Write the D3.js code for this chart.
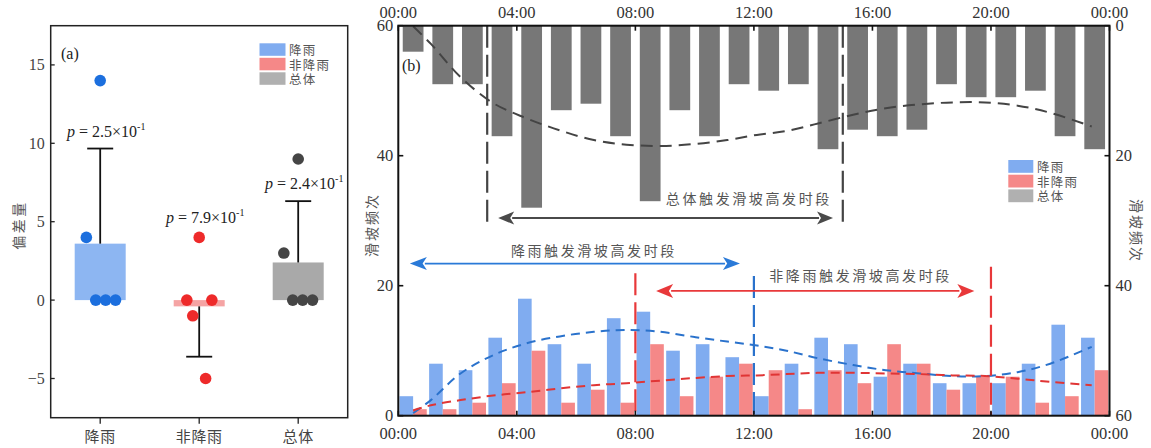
<!DOCTYPE html>
<html><head><meta charset="utf-8">
<script src="https://cdn.jsdelivr.net/npm/d3@7"></script>
<style>body{margin:0;background:#fff} svg{display:block}</style>
</head><body><svg id="c" width="1151" height="448"></svg>
<script>
// ---------- data: panel (a) ----------
const groupsA = ["降雨", "非降雨", "总体"];
const rainDev = [14, 4, 0, 0, 0];
const nonRainDev = [4, 0, 0, -1, -5];
const totalDev = [9, 3, 0, 0, 0];
const dotJitter = [[0, -0.14, -0.045, 0.055, 0.155], [0, -0.125, 0.128, -0.065, 0.065], [0, -0.145, -0.055, 0.045, 0.145]];
const pValues = ["2.5", "7.9", "2.4"];
const yTicksA = [-5, 0, 5, 10, 15];

// ---------- data: panel (b) ----------
const hourSlots = [0,1,2,3,4,5,6,7,8,9,10,11,12,13,14,15,16,17,18,19,20,21,22,23];
const rainFreq    = [3,8,7,12,18,11,8,15,16,10,11,9,3,8,12,11,6,8,5,5,5,8,14,12];
const nonRainFreq = [1,1,2,5,10,2,4,2,11,3,6,8,7,1,7,5,11,8,4,6,6,2,3,7];
const totalFreq   = [4,9,9,17,28,13,12,17,27,13,17,9,10,9,19,16,17,16,9,11,11,10,17,19];
const timeTickHours = [0,4,8,12,16,20,24];
const timeTickLabels = ["00:00","04:00","08:00","12:00","16:00","20:00","00:00"];
const freqTicks = [0,20,40,60];
const curveHours = [0.5,1.1,2.1,3.2,4.3,5.45,6.6,7.7,8.85,10,11.1,12.1,13.1,14.2,15.35,16.45,17.6,18.7,19.8,20.9,22,23.4];
const rainCurve    = [0.4,2.4,6.5,9.3,11.1,12.2,12.9,13.2,12.9,12.1,11.4,10.8,10.0,8.8,7.8,7.0,6.5,6.1,6.1,6.7,8.0,10.6];
const nonRainCurve = [0.8,1.6,2.4,3.1,3.6,4.2,4.7,5.0,5.4,5.8,6.1,6.2,6.4,6.6,6.6,6.5,6.4,6.2,6.1,5.7,5.2,4.7];
const totalCurve   = [0.1,2.8,7.9,11.9,14.2,16.1,17.6,18.3,18.5,18.2,17.6,16.8,16.2,15.0,13.7,12.7,12.1,11.8,11.8,12.3,13.4,15.5];
// high-incidence periods (hours) and annotation anchors (hours / frequency units)
const totalPeriod = [3, 15], rainPeriod = [0, 12], nonRainPeriod = [8, 20];
const totalArrow = [3.37, 14.67], rainArrow = [0.39, 11.53], nonRainArrow = [8.7, 19.44];
const arrowLevels = [30.4, 23.4, 19.2];
const periodLineTops = {total: 29, rain: 21.5, nonRainStart: 21.9, nonRainEnd: 22.9};
const periodLabels = ["总体触发滑坡高发时段", "降雨触发滑坡高发时段", "非降雨触发滑坡高发时段"];
const labelAnchors = [[14.63, 33.5], [6.6, 25.5], [15.6, 21.6]];
const legendLabels = ["降雨", "非降雨", "总体"];

// ---------- styles ----------
const CJK = "'Noto Sans CJK SC', sans-serif";
const SERIF = "'Liberation Serif', 'Times New Roman', serif";
const boxColors = ["#8db6f2", "#f5a4a4", "#a9a9a9"];
const dotColors = ["#1c6fde", "#ee2a2a", "#454545"];
const barBlue = "#80acf0", barRed = "#f58888", barGray = "#777777";
const legColors = ["#80acf0", "#f58888", "#b0b0b0"];

const svg = d3.select("#c");

// ================= PANEL (a) =================
const A = {l: 50.7, r: 347.7, t: 25.7, b: 417.7};
const xa = d3.scaleBand().domain(groupsA).range([A.l, A.r]).padding(0);
const ya = d3.scaleLinear().domain([-7.5, 17.5]).range([A.b, A.t]);
const ga = svg.append("g");
const devSets = [rainDev, nonRainDev, totalDev];
const boxW = 51, capW = 26;

devSets.forEach((vals, i) => {
  const cx = xa(groupsA[i]) + xa.bandwidth() / 2;
  const m = d3.mean(vals), sd = d3.deviation(vals);
  ga.append("rect").attr("x", cx - boxW / 2).attr("width", boxW)
    .attr("y", Math.min(ya(m), ya(0))).attr("height", Math.abs(ya(m) - ya(0)))
    .attr("fill", boxColors[i]);
  const end = m >= 0 ? m + sd : m - sd;
  ga.append("line").attr("x1", cx).attr("x2", cx).attr("y1", ya(m)).attr("y2", ya(end))
    .attr("stroke", "#111").attr("stroke-width", 1.8);
  ga.append("line").attr("x1", cx - capW / 2).attr("x2", cx + capW / 2).attr("y1", ya(end)).attr("y2", ya(end))
    .attr("stroke", "#111").attr("stroke-width", 1.8);
  vals.forEach((v, j) => {
    ga.append("circle").attr("cx", cx + dotJitter[i][j] * xa.bandwidth()).attr("cy", ya(v)).attr("r", 5.8)
      .attr("fill", dotColors[i]);
  });
  const anchor = m >= 0 ? m + sd : d3.max(vals);
  const ty = ya(anchor) - (m >= 0 ? 12 : 14);
  const t = ga.append("text").attr("x", cx + 6).attr("y", ty).attr("text-anchor", "middle")
    .attr("font-family", SERIF).attr("font-size", 16).attr("fill", "#222");
  t.append("tspan").attr("font-style", "italic").text("p");
  t.append("tspan").text(" = " + pValues[i] + "×10");
  t.append("tspan").attr("font-size", 10).attr("dy", -7).text("-1");
});

ga.append("rect").attr("x", A.l).attr("y", A.t).attr("width", A.r - A.l).attr("height", A.b - A.t)
  .attr("fill", "none").attr("stroke", "#222").attr("stroke-width", 1.5);
yTicksA.forEach(v => {
  ga.append("line").attr("x1", A.l).attr("x2", A.l + 4).attr("y1", ya(v)).attr("y2", ya(v)).attr("stroke", "#222").attr("stroke-width", 1.3);
  ga.append("text").attr("x", A.l - 6).attr("y", ya(v)).attr("dy", "0.34em").attr("text-anchor", "end")
    .attr("font-family", SERIF).attr("font-size", 16).attr("fill", "#444").text(v < 0 ? "−" + Math.abs(v) : v);
});
groupsA.forEach(g => {
  const cx = xa(g) + xa.bandwidth() / 2;
  ga.append("line").attr("x1", cx).attr("x2", cx).attr("y1", A.b).attr("y2", A.b + 6).attr("stroke", "#222").attr("stroke-width", 1.3);
  ga.append("text").attr("x", cx).attr("y", 435).attr("dominant-baseline", "central").attr("text-anchor", "middle")
    .attr("font-family", CJK).attr("font-size", 15).attr("letter-spacing", 0.6).attr("fill", "#444").text(g);
});
ga.append("text").attr("transform", "translate(18,225) rotate(-90)").attr("text-anchor", "middle")
  .attr("dominant-baseline", "central").attr("font-family", CJK).attr("font-size", 14).attr("letter-spacing", 2.5)
  .attr("fill", "#555").text("偏差量");
ga.append("text").attr("x", 61).attr("y", 53).attr("dominant-baseline", "central").attr("font-family", SERIF)
  .attr("font-size", 16).attr("fill", "#222").text("(a)");
legendLabels.forEach((s, i) => {
  const y0 = 43.3 + i * 14.5;
  ga.append("rect").attr("x", 259.5).attr("y", y0).attr("width", 26).attr("height", 12.5).attr("fill", legColors[i]);
  ga.append("text").attr("x", 289).attr("y", y0 + 6.5).attr("dominant-baseline", "central").attr("font-family", CJK)
    .attr("font-size", 12.5).attr("letter-spacing", 1.2).attr("fill", "#555").text(s);
});

// ================= PANEL (b) =================
const B = {l: 398.3, r: 1109.5, t: 25.7, b: 415.7};
const xt = d3.scaleLinear().domain([0, 24]).range([B.l, B.r]);
const yl = d3.scaleLinear().domain([0, 60]).range([B.b, B.t]);
const yr = d3.scaleLinear().domain([0, 60]).range([B.t, B.b]);
const hourBand = d3.scaleBand().domain(hourSlots).range([B.l, B.r]).paddingInner(0.3).paddingOuter(0.15);
const groupBand = d3.scaleBand().domain(hourSlots).range([B.l, B.r]).paddingInner(0.08).paddingOuter(0.04);
const subBand = d3.scaleBand().domain(["rain", "non"]).range([0, groupBand.bandwidth()]);
const gb = svg.append("g");

gb.selectAll(".tb").data(hourSlots).join("rect")
  .attr("x", h => hourBand(h)).attr("width", hourBand.bandwidth())
  .attr("y", yr(0)).attr("height", (h, i) => yr(totalFreq[i]) - yr(0)).attr("fill", barGray);

gb.selectAll(".rb").data(hourSlots).join("rect")
  .attr("x", h => groupBand(h) + subBand("rain")).attr("width", subBand.bandwidth())
  .attr("y", (h, i) => yl(rainFreq[i])).attr("height", (h, i) => yl(0) - yl(rainFreq[i])).attr("fill", barBlue);
gb.selectAll(".nb").data(hourSlots).join("rect")
  .attr("x", h => groupBand(h) + subBand("non")).attr("width", subBand.bandwidth())
  .attr("y", (h, i) => yl(nonRainFreq[i])).attr("height", (h, i) => yl(0) - yl(nonRainFreq[i])).attr("fill", barRed);

const lineL = d3.line().x((d, i) => xt(curveHours[i])).y(d => yl(d)).curve(d3.curveCatmullRom);
const lineR = d3.line().x((d, i) => xt(curveHours[i])).y(d => yr(d)).curve(d3.curveCatmullRom);
gb.append("path").attr("d", lineR(totalCurve)).attr("fill", "none").attr("stroke", "#444").attr("stroke-width", 2).attr("stroke-dasharray", "12,7");
gb.append("path").attr("d", lineL(rainCurve)).attr("fill", "none").attr("stroke", "#2a72cc").attr("stroke-width", 2).attr("stroke-dasharray", "9,6");
gb.append("path").attr("d", lineL(nonRainCurve)).attr("fill", "none").attr("stroke", "#e03535").attr("stroke-width", 2).attr("stroke-dasharray", "9,6");

function vline(h, top, bottom, color) {
  gb.append("line").attr("x1", xt(h)).attr("x2", xt(h)).attr("y1", top).attr("y2", bottom)
    .attr("stroke", color).attr("stroke-width", 2.2).attr("stroke-dasharray", "22,7");
}
vline(totalPeriod[0], B.t, yl(periodLineTops.total), "#444");
vline(totalPeriod[1], B.t, yl(periodLineTops.total), "#444");
vline(rainPeriod[1], yl(periodLineTops.rain), B.b, "#2a72cc");
vline(nonRainPeriod[0], yl(periodLineTops.nonRainStart), B.b, "#e8383a");
vline(nonRainPeriod[1], yl(periodLineTops.nonRainEnd), B.b, "#e8383a");

function dblArrow(span, level, color, w, hl, hw) {
  const x1 = xt(span[0]), x2 = xt(span[1]), y = yl(level);
  gb.append("line").attr("x1", x1 + hl - 2).attr("x2", x2 - hl + 2).attr("y1", y).attr("y2", y)
    .attr("stroke", color).attr("stroke-width", w);
  gb.append("path").attr("d", `M${x1},${y}L${x1 + hl},${y - hw / 2}L${x1 + hl * 0.75},${y}L${x1 + hl},${y + hw / 2}Z`).attr("fill", color);
  gb.append("path").attr("d", `M${x2},${y}L${x2 - hl},${y - hw / 2}L${x2 - hl * 0.75},${y}L${x2 - hl},${y + hw / 2}Z`).attr("fill", color);
}
dblArrow(totalArrow, arrowLevels[0], "#4a4a4a", 2, 16, 13);
dblArrow(rainArrow, arrowLevels[1], "#2a7ad8", 1.6, 17, 13);
dblArrow(nonRainArrow, arrowLevels[2], "#e8383a", 1.6, 17, 14);

const anchors = ["end", "middle", "middle"];
periodLabels.forEach((s, i) => {
  gb.append("text").attr("x", xt(labelAnchors[i][0])).attr("y", yl(labelAnchors[i][1]))
    .attr("text-anchor", anchors[i]).attr("dominant-baseline", "central")
    .attr("font-family", CJK).attr("font-size", 14).attr("letter-spacing", 2.6).attr("fill", "#555").text(s);
});

gb.append("rect").attr("x", B.l).attr("y", B.t).attr("width", B.r - B.l).attr("height", B.b - B.t)
  .attr("fill", "none").attr("stroke", "#111").attr("stroke-width", 2);
timeTickHours.forEach((h, i) => {
  const x = xt(h);
  gb.append("line").attr("x1", x).attr("x2", x).attr("y1", B.t).attr("y2", B.t + 5).attr("stroke", "#111").attr("stroke-width", 1.6);
  gb.append("line").attr("x1", x).attr("x2", x).attr("y1", B.b).attr("y2", B.b - 5).attr("stroke", "#111").attr("stroke-width", 1.6);
  gb.append("text").attr("x", x).attr("y", 12.5).attr("dy", "0.34em").attr("text-anchor", "middle")
    .attr("font-family", SERIF).attr("font-size", 16.5).attr("fill", "#333").text(timeTickLabels[i]);
  gb.append("text").attr("x", x).attr("y", 433).attr("dy", "0.34em").attr("text-anchor", "middle")
    .attr("font-family", SERIF).attr("font-size", 16.5).attr("fill", "#333").text(timeTickLabels[i]);
});
freqTicks.forEach(v => {
  gb.append("line").attr("x1", B.l).attr("x2", B.l + 5).attr("y1", yl(v)).attr("y2", yl(v)).attr("stroke", "#111").attr("stroke-width", 1.6);
  gb.append("text").attr("x", B.l - 5).attr("y", yl(v)).attr("dy", "0.34em").attr("text-anchor", "end")
    .attr("font-family", SERIF).attr("font-size", 16.5).attr("fill", "#333").text(v);
  gb.append("line").attr("x1", B.r).attr("x2", B.r - 5).attr("y1", yr(v)).attr("y2", yr(v)).attr("stroke", "#111").attr("stroke-width", 1.6);
  gb.append("text").attr("x", B.r + 6).attr("y", yr(v)).attr("dy", "0.34em").attr("text-anchor", "start")
    .attr("font-family", SERIF).attr("font-size", 16.5).attr("fill", "#333").text(v);
});
gb.append("text").attr("transform", "translate(371,225) rotate(-90)").attr("text-anchor", "middle")
  .attr("dominant-baseline", "central").attr("font-family", CJK).attr("font-size", 14).attr("letter-spacing", 2)
  .attr("fill", "#555").text("滑坡频次");
gb.append("text").attr("transform", "translate(1137,231) rotate(90)").attr("text-anchor", "middle")
  .attr("dominant-baseline", "central").attr("font-family", CJK).attr("font-size", 14).attr("letter-spacing", 2)
  .attr("fill", "#555").text("滑坡频次");
gb.append("text").attr("x", 402).attr("y", 65).attr("dominant-baseline", "central").attr("font-family", SERIF)
  .attr("font-size", 16).attr("fill", "#222").text("(b)");
legendLabels.forEach((s, i) => {
  const y0 = 160 + i * 14.7;
  gb.append("rect").attr("x", 1008.3).attr("y", y0).attr("width", 25).attr("height", 12.8).attr("fill", legColors[i]);
  gb.append("text").attr("x", 1037).attr("y", y0 + 6.5).attr("dominant-baseline", "central").attr("font-family", CJK)
    .attr("font-size", 12.5).attr("letter-spacing", 1.2).attr("fill", "#555").text(s);
});
</script></body></html>
